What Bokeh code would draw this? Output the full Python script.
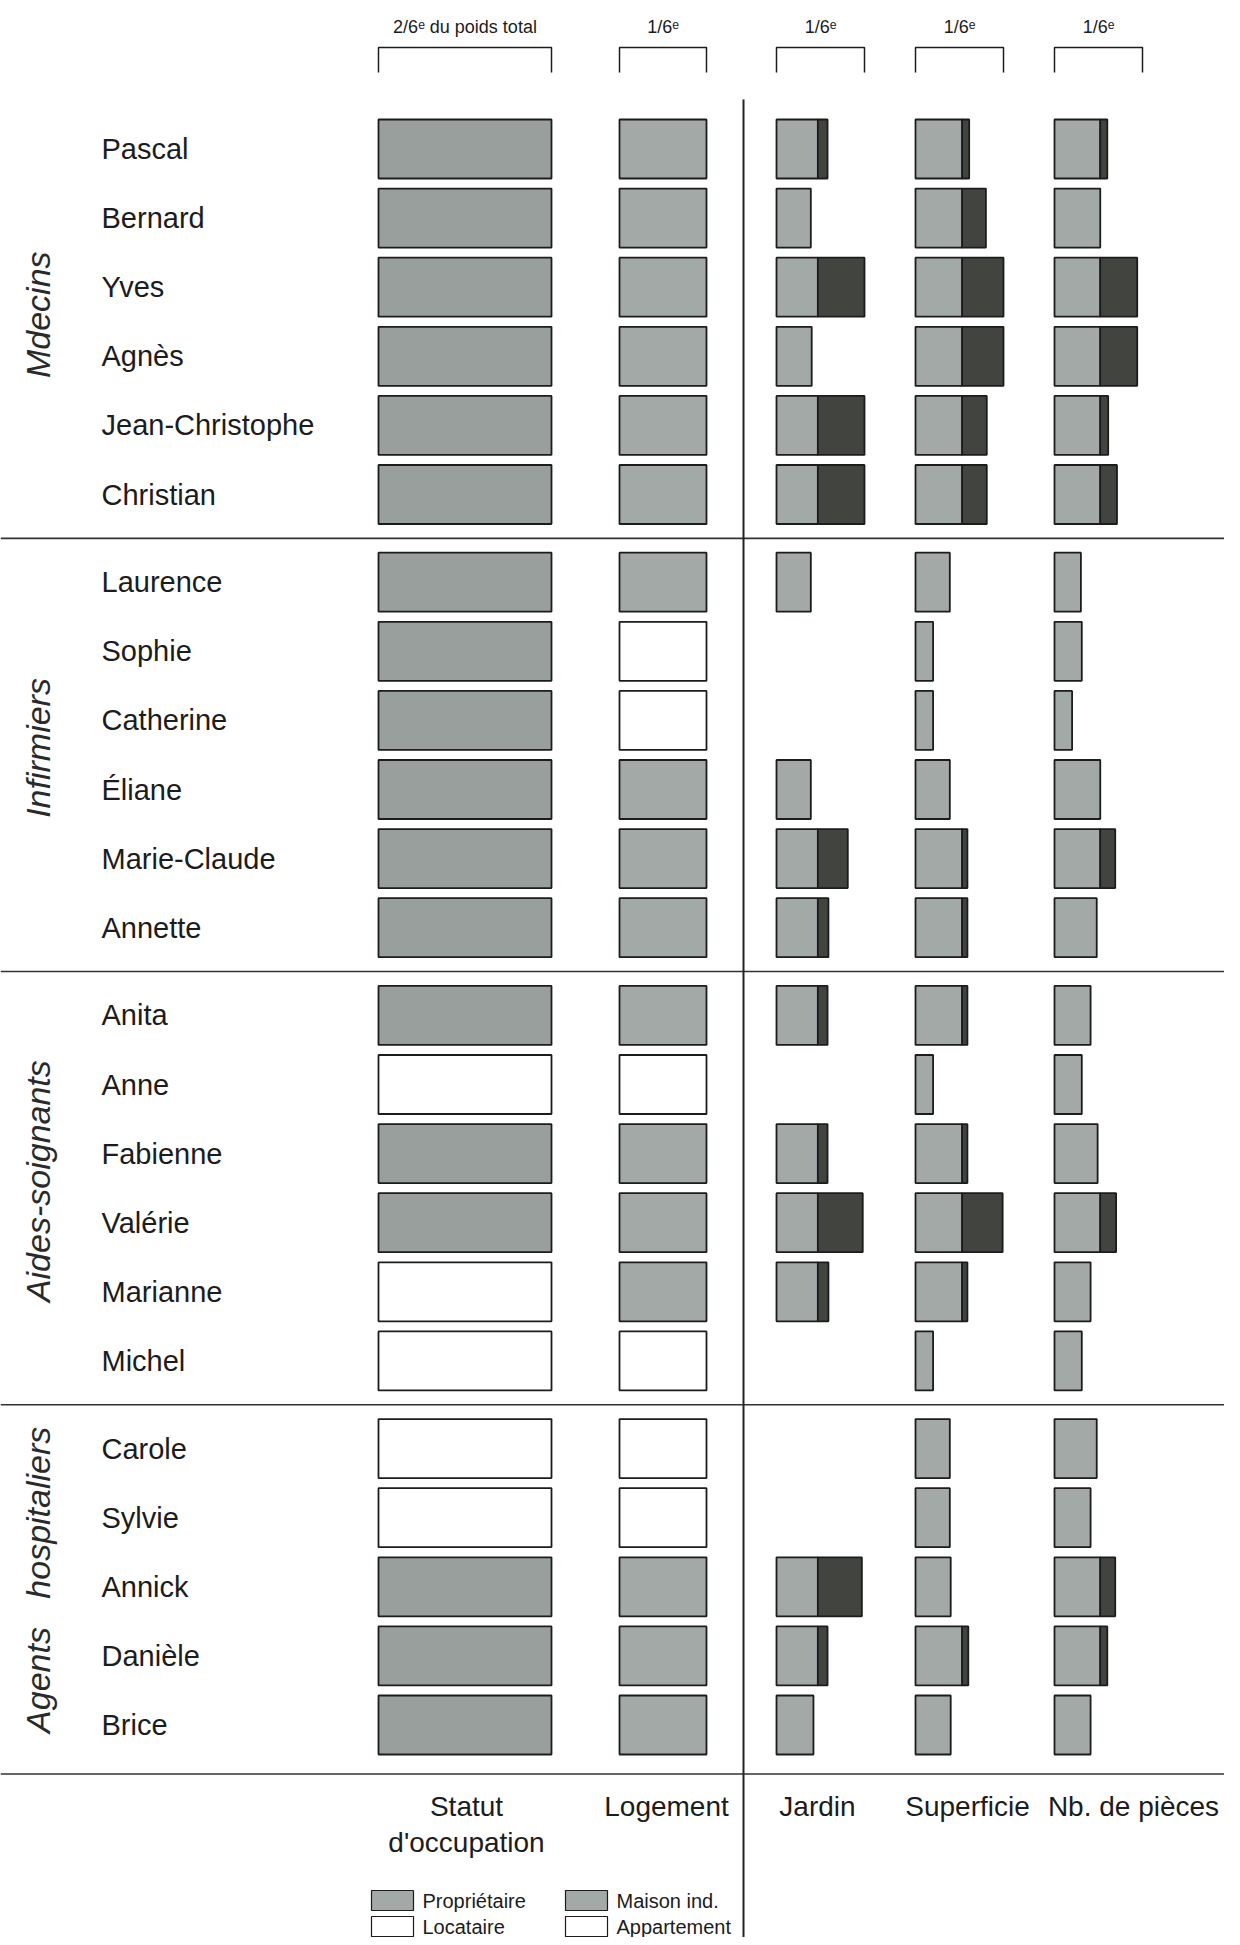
import numpy as np
from bokeh.plotting import figure
from bokeh.models import Range1d
from bokeh.core.properties import value
from bokeh.embed import file_html
from bokeh.resources import INLINE

# ---------------- data ----------------
groups = ["Mdecins", "Infirmiers", "Aides-soignants", "Agents hospitaliers"]
group_sizes = [6, 6, 6, 5]
names = ["Pascal", "Bernard", "Yves", "Agnès", "Jean-Christophe", "Christian",
         "Laurence", "Sophie", "Catherine", "Éliane", "Marie-Claude", "Annette",
         "Anita", "Anne", "Fabienne", "Valérie", "Marianne", "Michel",
         "Carole", "Sylvie", "Annick", "Danièle", "Brice"]
statut = ["Propriétaire"] * 6 + ["Propriétaire"] * 6 + \
         ["Propriétaire", "Locataire", "Propriétaire", "Propriétaire", "Locataire", "Locataire"] + \
         ["Locataire", "Locataire", "Propriétaire", "Propriétaire", "Propriétaire"]
logement = ["Maison ind."] * 6 + \
           ["Maison ind.", "Appartement", "Appartement", "Maison ind.", "Maison ind.", "Maison ind."] + \
           ["Maison ind.", "Appartement", "Maison ind.", "Maison ind.", "Maison ind.", "Appartement"] + \
           ["Appartement", "Appartement", "Maison ind.", "Maison ind.", "Maison ind."]
# share of the 1/6 weight reached by each person
jardin = [0.58, 0.39, 1.00, 0.40, 1.00, 1.00,
          0.39, 0.00, 0.00, 0.39, 0.81, 0.59,
          0.58, 0.00, 0.58, 0.98, 0.59, 0.00,
          0.00, 0.00, 0.97, 0.58, 0.42]
superficie = [0.61, 0.80, 1.00, 1.00, 0.81, 0.81,
              0.39, 0.20, 0.20, 0.39, 0.59, 0.59,
              0.59, 0.20, 0.59, 0.99, 0.59, 0.20,
              0.39, 0.39, 0.40, 0.60, 0.40]
pieces = [0.60, 0.52, 0.94, 0.94, 0.61, 0.71,
          0.30, 0.31, 0.20, 0.52, 0.69, 0.48,
          0.41, 0.31, 0.49, 0.70, 0.41, 0.31,
          0.48, 0.41, 0.69, 0.60, 0.41]
# light part up to this level, dark part beyond
seuils = [0.47, 0.53, 0.52]
poids_labels = ["2/6ᵉ du poids total", "1/6ᵉ", "1/6ᵉ", "1/6ᵉ", "1/6ᵉ"]
col_labels = ["Statut", "Logement", "Jardin", "Superficie", "Nb. de pièces"]
legend_items = [["Propriétaire", "Locataire"], ["Maison ind.", "Appartement"]]

# ---------------- layout ----------------
W, H = 1224, 1937
X0, Y0 = 0, 0

FONT = "Liberation Sans"
INK = "#1c1c1c"
GREY = "#a2a9a6"
GREY_S = "#999f9c"
DARK = "#42443f"
U = 88  # width of a 1/6 weight
col_left = [378, 619, 776, 915, 1054]
col_width = [173, 87, U, U, U]
label_x = [466, 666, 817, 967, 1133]

p = figure(width=W, height=H, x_range=Range1d(X0, X0 + W), y_range=Range1d(Y0 + H, Y0),
           output_backend="svg", toolbar_location=None, min_border=0)
p.axis.visible = False
p.grid.visible = False
p.outline_line_color = None
p.background_fill_color = "white"
p.border_fill_color = "white"

y0, step, gap, bh = 148.5, 69.1, 18.6, 59
ys, gidx = [], []
for g, n in enumerate(group_sizes):
    for k in range(n):
        ys.append(y0 + step * len(ys) + gap * g)
        gidx.append(g)
ys = np.array(ys)
tops = ys - bh / 2
bots = ys + bh / 2

# Statut d'occupation
p.quad(left=col_left[0], right=col_left[0] + col_width[0], top=tops, bottom=bots,
       fill_color=[GREY_S if s == "Propriétaire" else "white" for s in statut],
       line_color=INK, line_width=1.8)
# Logement
p.quad(left=col_left[1], right=col_left[1] + col_width[1], top=tops, bottom=bots,
       fill_color=[GREY if s == "Maison ind." else "white" for s in logement],
       line_color=INK, line_width=1.8)

# Jardin, Superficie, Nb de pièces
for ci, (vals, thr) in enumerate(zip([jardin, superficie, pieces], seuils)):
    v = np.array(vals)
    left = col_left[ci + 2]
    m = v > 0
    light = np.minimum(v, thr)
    p.quad(left=left, right=left + light[m] * U, top=tops[m], bottom=bots[m],
           fill_color=GREY, line_color=INK, line_width=1.8)
    d = v - thr > 0.005
    p.quad(left=left + thr * U, right=left + v[d] * U, top=tops[d], bottom=bots[d],
           fill_color=DARK, line_color=INK, line_width=1.8)

# brackets + weight labels
p.multi_line(xs=[[l, l, l + w, l + w] for l, w in zip(col_left, col_width)],
             ys=[[72, 47, 47, 72]] * 5, line_color=INK, line_width=1.5)
p.text(x=[l + w / 2 for l, w in zip(col_left, col_width)], y=[26] * 5, text=poids_labels,
       text_font=value(FONT), text_font_size="18px", text_align="center",
       text_baseline="middle", text_color=INK)

# separators
sep_y = []
for g in range(len(group_sizes) - 1):
    last = max(i for i in range(len(ys)) if gidx[i] == g)
    sep_y.append((ys[last] + ys[last + 1]) / 2)
sep_y.append(ys[-1] + 49)
p.segment(x0=0, x1=1240, y0=sep_y, y1=sep_y, line_color="#333333", line_width=1.6)
p.segment(x0=[743], x1=[743], y0=[99], y1=[1945], line_color="#222222", line_width=2)

# names
p.text(x=101, y=ys, text=names, text_font=value(FONT), text_font_size="29px",
       text_align="left", text_baseline="middle", text_color=INK)

# group labels
gc = [np.mean(ys[np.array(gidx) == g]) - 7 for g in range(len(groups))]
glabels = [t.replace(" ", "\u00a0" * 3) for t in groups]
p.text(x=37, y=gc, text=glabels, angle=np.pi / 2, text_font=value(FONT),
       text_font_style="italic", text_font_size="34px", text_align="center",
       text_baseline="middle", text_color="#2a2a2a")

# column labels
p.text(x=label_x, y=[1806] * 5, text=col_labels, text_font=value(FONT),
       text_font_size="28px", text_align="center", text_baseline="middle", text_color=INK)
p.text(x=[label_x[0]], y=[1842], text=["d'occupation"], text_font=value(FONT),
       text_font_size="28px", text_align="center", text_baseline="middle", text_color=INK)

# legend
sw_x = [371, 565]
ly = [1900, 1926]
for k, (a, b) in enumerate(legend_items):
    p.quad(left=[sw_x[k]], right=[sw_x[k] + 42], top=[ly[0] - 10], bottom=[ly[0] + 10],
           fill_color=GREY, line_color=INK, line_width=1.2)
    p.quad(left=[sw_x[k]], right=[sw_x[k] + 42], top=[ly[1] - 10], bottom=[ly[1] + 10],
           fill_color="white", line_color=INK, line_width=1.2)
    p.text(x=[sw_x[k] + 51] * 2, y=ly, text=[a, b], text_font=value(FONT),
           text_font_size="20px", text_align="left", text_baseline="middle", text_color=INK)

open("out.html", "w").write(file_html(p, INLINE))
